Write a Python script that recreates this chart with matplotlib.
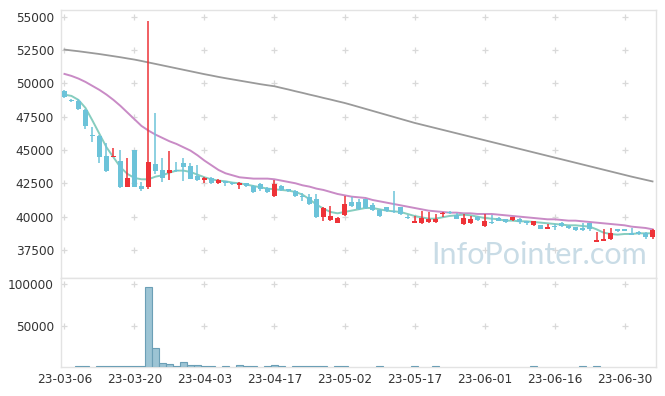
import numpy as np
import pandas as pd
import matplotlib
matplotlib.use("Agg")
import matplotlib.pyplot as plt

# trading days (KRX), 2023-03-06 .. 2023-07-06
holidays = ["2023-05-01", "2023-05-05", "2023-05-29", "2023-06-06"]
dates = pd.bdate_range("2023-03-06", "2023-07-06")
dates = dates[~dates.isin(pd.to_datetime(holidays))]

opens = [49450, 48750, 48700, 48000, 46150, 46050, 44550, 44450, 44150, 42250,
         45000, 42300, 42250, 43950, 43500, 43300, 43500, 44000, 43800, 43050,
         42750, 42900, 42500, 42650, 42550, 42400, 42500, 42300, 42450, 42150,
         41550, 42300, 42050, 41950, 41550, 41450, 41300, 40000, 39750, 39550,
         40100, 41100, 41100, 41300, 40850, 40500, 40700, 40450, 40700, 40000,
         39500, 39500, 39600, 39600, 40200, 40350, 40100, 39450, 39500, 39950,
         39300, 39600, 39900, 39800, 39775, 39850, 39650, 39400, 39350, 39100,
         39300, 39500, 39300, 39200, 39150, 39500, 38100, 38200, 38300, 39050,
         39050, 38800, 38850, 38800, 38450]
highs = [49500, 48800, 48800, 48050, 46700, 46100, 45550, 45150, 45000, 44400,
         45000, 42600, 54650, 47800, 44400, 44900, 44100, 44400, 44050, 43900,
         42950, 42950, 42800, 42700, 42600, 42600, 42550, 42350, 42500, 42250,
         42750, 42350, 42100, 42000, 41800, 41700, 41700, 40700, 40800, 39950,
         41550, 41450, 41350, 41350, 41050, 40550, 40750, 41900, 40750, 40100,
         40050, 40400, 40350, 40200, 40350, 40450, 40250, 40200, 40050, 40050,
         40200, 40100, 39950, 39850, 40000, 39900, 39700, 39700, 39400, 39450,
         39450, 39600, 39350, 39250, 39500, 39550, 38850, 39050, 39150, 39100,
         39100, 39150, 38950, 38850, 39050]
lows = [48900, 48600, 48000, 46550, 45600, 44000, 43350, 44450, 42150, 42200,
        42200, 41950, 42100, 43200, 42600, 42750, 43350, 42700, 42800, 42700,
        42500, 42450, 42450, 42300, 42350, 42050, 42250, 41800, 41900, 41800,
        41450, 41950, 41850, 41500, 41150, 40900, 39900, 39650, 39700, 39500,
        40050, 40750, 40500, 40600, 40450, 39950, 40350, 40300, 40150, 39800,
        39500, 39450, 39550, 39550, 40000, 40200, 39800, 39400, 39450, 39700,
        39250, 39450, 39650, 39550, 39700, 39450, 39400, 39300, 39050, 39050,
        39000, 39200, 39050, 38950, 38950, 38950, 38100, 38200, 38250, 38850,
        38900, 38600, 38650, 38300, 38300]
closes = [48950, 48650, 48100, 46800, 46050, 44500, 43450, 44550, 42200, 42900,
          42250, 42100, 44100, 43450, 42900, 43500, 43400, 43750, 42850, 42750,
          42900, 42500, 42750, 42500, 42450, 42550, 42300, 41850, 42100, 41850,
          42450, 42000, 41900, 41550, 41450, 40950, 39950, 40650, 40050, 39900,
          40950, 40800, 40600, 40650, 40500, 40050, 40450, 40350, 40200, 39900,
          39700, 39900, 39800, 39850, 40300, 40250, 39850, 39900, 39850, 39750,
          39700, 39550, 39700, 39600, 39950, 39600, 39550, 39650, 39100, 39250,
          39250, 39300, 39150, 39000, 39000, 39050, 38250, 38350, 38750, 38900,
          38950, 38650, 38700, 38500, 39000]
volumes = [0, 0, 700, 700, 0, 700, 700, 700, 700, 700,
           700, 700, 97000, 22500, 4500, 3500, 800, 5700, 2100, 2100,
           700, 700, 0, 700, 0, 2000, 700, 700, 0, 700,
           2000, 700, 0, 700, 700, 700, 700, 700, 0, 700,
           700, 0, 0, 0, 0, 700, 0, 0, 0, 0,
           700, 0, 0, 700, 0, 0, 0, 0, 0, 0,
           0, 0, 0, 0, 0, 0, 0, 700, 0, 0,
           0, 0, 0, 0, 700, 0, 700, 0, 0, 0,
           0, 0, 0, 0, 0]
ma5 = [49150, 49050, 48750, 48150, 47200, 46200, 45200, 44450, 43700, 43200,
       42900, 42800, 42800, 43000, 43100, 43300, 43450, 43450, 43350, 43150,
       42950, 42800, 42700, 42650, 42550, 42500, 42400, 42300, 42200, 42100,
       42050, 42000, 41950, 41850, 41650, 41300, 40900, 40600, 40350, 40250,
       40350, 40450, 40550, 40650, 40650, 40550, 40450, 40400, 40350, 40200,
       40050, 39950, 39850, 39850, 39950, 40050, 40100, 40150, 40100, 40000,
       39900, 39850, 39800, 39700, 39700, 39650, 39650, 39600, 39550, 39500,
       39450, 39400, 39350, 39350, 39300, 39250, 39050, 38800, 38700, 38650,
       38700, 38700, 38750, 38750, 38750]
ma20 = [50700, 50550, 50350, 50100, 49800, 49500, 49150, 48750, 48300, 47800,
        47300, 46800, 46450, 46150, 45900, 45650, 45450, 45200, 44950, 44600,
        44200, 43850, 43500, 43250, 43100, 42950, 42900, 42850, 42850, 42850,
        42800, 42700, 42600, 42500, 42350, 42250, 42100, 42000, 41850, 41700,
        41600, 41500, 41450, 41400, 41250, 41150, 41050, 40950, 40850, 40750,
        40650, 40550, 40450, 40400, 40350, 40300, 40300, 40250, 40250, 40200,
        40200, 40200, 40150, 40100, 40050, 40000, 39950, 39900, 39850, 39800,
        39800, 39750, 39700, 39700, 39650, 39600, 39550, 39500, 39450, 39400,
        39350, 39250, 39200, 39150, 39050]
ma60 = [52525, 52460, 52400, 52330, 52260, 52190, 52110, 52030, 51950, 51860,
        51775, 51670, 51560, 51450, 51340, 51230, 51120, 51010, 50900, 50790,
        50680, 50580, 50475, 50380, 50290, 50200, 50110, 50020, 49930, 49850,
        49775, 49650, 49530, 49400, 49280, 49150, 49030, 48900, 48780, 48650,
        48525, 48380, 48230, 48080, 47930, 47780, 47630, 47480, 47330, 47180,
        47030, 46900, 46770, 46640, 46510, 46380, 46250, 46120, 45990, 45860,
        45730, 45600, 45470, 45340, 45210, 45080, 44950, 44820, 44690, 44560,
        44430, 44300, 44170, 44040, 43910, 43780, 43650, 43520, 43390, 43260,
        43130, 43000, 42880, 42760, 42640]

price_ticks = [37500, 40000, 42500, 45000, 47500, 50000, 52500, 55000]
vol_ticks = [50000, 100000]

UP = "#ee3338"
DOWN = "#6cc3d9"
GRID = "#d9d9d9"
FRAME = "#e3e3e3"

x = np.arange(len(closes))
o, h, l, c = map(np.array, (opens, highs, lows, closes))
colors = np.where(c >= o, UP, DOWN)

fig = plt.figure(figsize=(6.65, 3.96), dpi=100)
ax = fig.add_axes([0.0917, 0.298, 0.8948, 0.677])
axv = fig.add_axes([0.0917, 0.0732, 0.8948, 0.2248], sharex=ax)

# moving averages
ax.plot(x, ma60, color="#9a9a9a", lw=1.3, zorder=2)
ax.plot(x, ma20, color="#c98bc6", lw=1.4, zorder=2)
ax.plot(x, ma5, color="#86cdbf", lw=1.4, zorder=2)

# candles
ax.vlines(x, l, h, colors=colors, lw=1.1, zorder=3)
body = np.maximum(np.abs(c - o), 60)
ax.bar(x, body, bottom=np.minimum(o, c), width=0.72, color=colors, lw=0, zorder=4)

ax.set_xlim(-0.5, len(x) - 0.5)
ax.set_ylim(35400, 55500)
ax.set_yticks(price_ticks)
ax.set_yticklabels([str(t) for t in price_ticks])

# volume
vol = np.array(volumes)
m = vol > 0
axv.bar(x[m], vol[m], width=1.0, color="#9cc4d4", edgecolor="#6b9fb6", lw=0.8, zorder=3)
axv.set_ylim(0, 107500)
axv.set_yticks(vol_ticks)
axv.set_yticklabels([str(t) for t in vol_ticks])

tick_idx = list(range(0, len(x), 10))
axv.set_xticks(tick_idx)
axv.set_xticklabels([dates[i].strftime("%y-%m-%d") for i in tick_idx])
plt.setp(ax.get_xticklabels(), visible=False)

# grid as small plus marks
for a, yt in ((ax, price_ticks), (axv, vol_ticks)):
    gx, gy = np.meshgrid(tick_idx, yt)
    a.plot(gx.ravel(), gy.ravel(), "+", color=GRID, ms=5, mew=0.9, zorder=1)
    for s in a.spines.values():
        s.set_color(FRAME)
        s.set_linewidth(1)
    a.tick_params(length=0, labelsize=8.7, colors="#333333", pad=5)
    a.set_facecolor("white")
axv.tick_params(axis="x", pad=4)

ax.text(0.985, 0.035, "InfoPointer.com", transform=ax.transAxes, ha="right", va="bottom",
        fontsize=22, color="#c9dce6", family="Lato", zorder=5)

fig.savefig("out.png", dpi=100, facecolor="white")
